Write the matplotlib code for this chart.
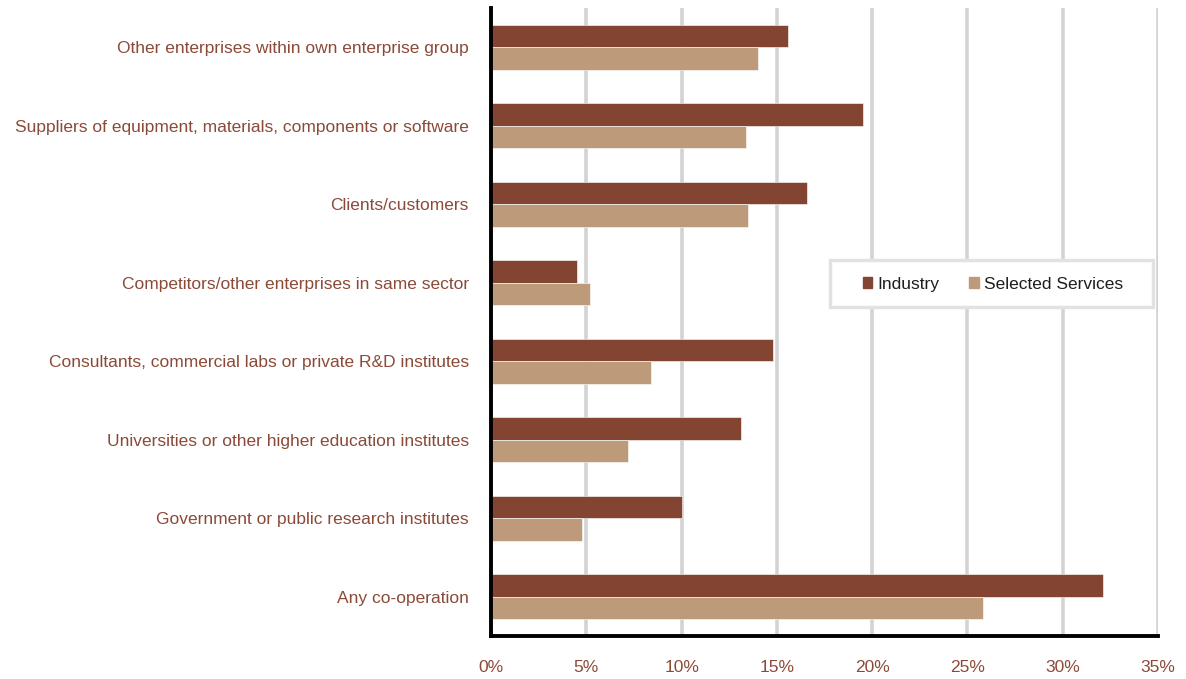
import numpy as np
import matplotlib
matplotlib.use("Agg")
import matplotlib.pyplot as plt
from matplotlib.patches import Patch, Rectangle

plt.rcParams['font.family'] = ['Liberation Sans', 'DejaVu Sans']

categories = [
    "Other enterprises within own enterprise group",
    "Suppliers of equipment, materials, components or software",
    "Clients/customers",
    "Competitors/other enterprises in same sector",
    "Consultants, commercial labs or private R&D institutes",
    "Universities or other higher education institutes",
    "Government or public research institutes",
    "Any co-operation",
]
industry = [15.6, 19.5, 16.6, 4.5, 14.8, 13.1, 10.0, 32.1]
services = [14.0, 13.4, 13.5, 5.2, 8.4, 7.2, 4.8, 25.8]
series_names = ["Industry", "Selected Services"]
x_ticks = [0, 5, 10, 15, 20, 25, 30, 35]
x_tick_labels = [f"{t}%" for t in x_ticks]

c_ind = "#834531"
c_srv = "#BC9A7A"
text_col = "#8B4A38"
W, H = 1186, 679

fig = plt.figure(figsize=(W / 100, H / 100), dpi=100)
ax = fig.add_axes([491 / W, 1 - 636 / H, (1158 - 491) / W, (636 - 8) / H])

y = np.arange(len(categories))
h = 0.285
ax.barh(y - h / 2, industry, height=h, color=c_ind, edgecolor="white", linewidth=0.4, zorder=3)
ax.barh(y + h / 2, services, height=h, color=c_srv, edgecolor="white", linewidth=0.4, zorder=3)

ax.set_ylim(len(categories) - 0.5, -0.5)
ax.set_xlim(0, 35)
ax.set_yticks(y)
ax.set_yticklabels(categories, fontsize=12.5, color=text_col)
ax.set_xticks(x_ticks)
ax.set_xticklabels(x_tick_labels, fontsize=12.5, color=text_col)
ax.tick_params(axis='both', length=0)
ax.tick_params(axis='y', pad=16)
ax.tick_params(axis='x', pad=17)

ax.xaxis.grid(True, color="#d3d3d3", linewidth=2.6, zorder=0)
ax.set_axisbelow(True)
for s in ["top", "right"]:
    ax.spines[s].set_visible(False)
for s in ["left", "bottom"]:
    ax.spines[s].set_color("black")
    ax.spines[s].set_linewidth(2.8)
    ax.spines[s].set_zorder(4)

# legend box
x0, x1, y0, y1 = 830, 1153, 260, 307
box = Rectangle((x0 / W, 1 - y1 / H), (x1 - x0) / W, (y1 - y0) / H,
                transform=fig.transFigure, facecolor="white",
                edgecolor="#e2e2e2", linewidth=2.5, zorder=5)
fig.patches.append(box)

handles = [Patch(color=c_ind), Patch(color=c_srv)]
leg = fig.legend(handles, series_names, ncol=2, loc="center",
                 bbox_to_anchor=(993 / W, 1 - 284 / H),
                 fontsize=12.5, frameon=False,
                 handlelength=0.55, handleheight=0.55, handletextpad=0.3,
                 columnspacing=1.7, borderpad=0, borderaxespad=0)
for t in leg.get_texts():
    t.set_color("#1e1e1e")
leg.set_zorder(6)

fig.savefig("out.png", dpi=100)
